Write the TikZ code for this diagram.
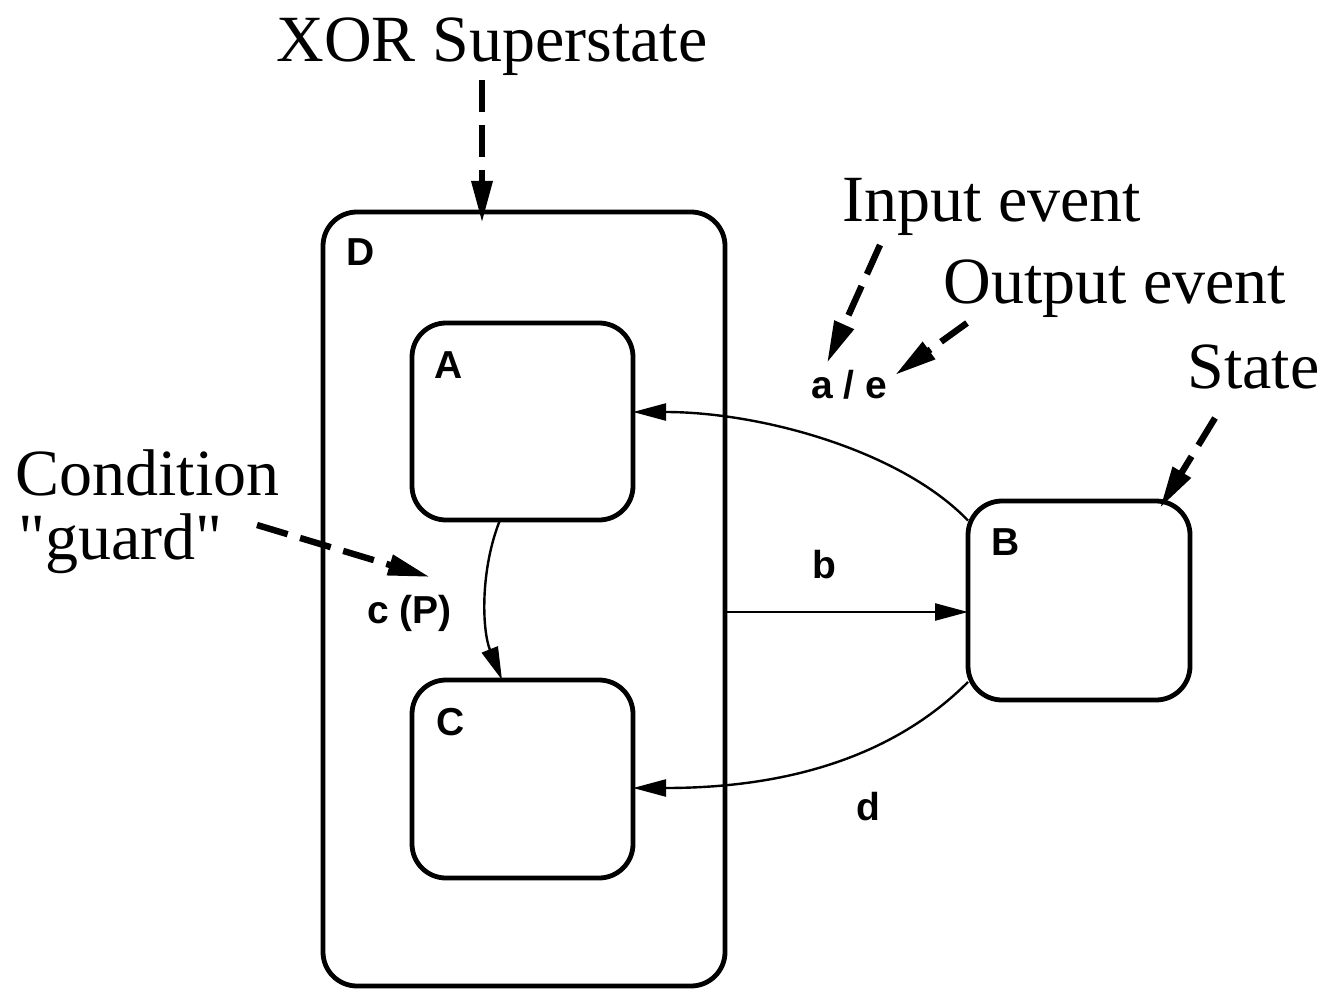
\documentclass[tikz,border=0pt]{standalone}
\usepackage{fontspec}
\setmainfont{Liberation Serif}[Ligatures=TeXOff]
\setsansfont{Liberation Sans}
\usetikzlibrary{arrows.meta}
\begin{document}
\begin{tikzpicture}[x=0.5pt,y=-0.5pt,
  statebox/.style={draw, rectangle, line width=2.4pt, rounded corners=17pt, inner sep=0pt, outer sep=0pt},
  lbl/.style={font=\sffamily\bfseries\fontsize{19.5}{21}\selectfont, anchor=base west, inner sep=0pt},
  note/.style={font=\fontsize{33}{36}\selectfont, anchor=base west, inner sep=0pt},
  conn/.style={line width=1.2pt, -{Triangle[length=16.5pt,width=8.5pt]}},
  pointer/.style={line width=3.2pt, dash pattern=on 16pt off 6.5pt, -{Triangle[length=21pt,width=10pt]}}]
\useasboundingbox (0,0) rectangle (1325,989);

% states
\node[statebox, minimum width=201pt, minimum height=387pt] (D) at (524,599) {};
\node[statebox, minimum width=110.5pt, minimum height=98.5pt] (A) at (522.5,421.5) {};
\node[statebox, minimum width=110.5pt, minimum height=99pt] (C) at (522.5,779) {};
\node[statebox, minimum width=111pt, minimum height=99.5pt] (B) at (1079,600.5) {};

% state labels
\node[lbl] (Dl) at (346,266) {D};
\node[lbl] (Al) at (434,378) {A};
\node[lbl] (Cl) at (436,735) {C};
\node[lbl] (Bl) at (991,555) {B};

% transition labels
\node[lbl] (ae) at (811,398) {a / e};
\node[lbl] (bl) at (812,578) {b};
\node[lbl] (dl) at (856,820) {d};
\node[lbl] (cp) at (367,623) {c (P)};

% annotations
\node[note, anchor=base] (xor) at (492,62) {XOR Superstate};
\node[note] (inev) at (842,222) {Input event};
\node[note] (outev) at (943,303) {Output event};
\node[note] (state) at (1187,388) {State};
\node[note] (cond) at (15,495) {Condition};
\node[note] (guard) at (18,559) {"guard"};

% transitions
\draw[conn] ([yshift=40pt]B.west) .. controls (900,450) and (760,412) .. ([yshift=4.75pt]A.east);
\draw[conn] ([yshift=-40.75pt]B.west) .. controls (900,750) and (800,788) .. ([yshift=-4.5pt]C.east);
\draw[conn] ([yshift=-6.5pt]D.east) -- ([yshift=-5.75pt]B.west);
\draw[conn] ([xshift=-11.25pt]A.south) .. controls (480,570) and (482,630) .. ([xshift=-10.25pt]C.north);

% annotation pointers
\coordinate (xorS) at (482,80);
\coordinate (inS) at (880,245);
\coordinate (inE) at (827,363);
\coordinate (outS) at (967,323);
\coordinate (outE) at (895,375);
\coordinate (stS) at (1215,418);
\coordinate (condS) at (257,525);
\coordinate (condE) at (430,577);
\draw[pointer] (xorS) -- ([xshift=-21pt,yshift=-5.5pt]D.north);
\draw[pointer] (inS) -- (inE);
\draw[pointer] (outS) -- (outE);
\draw[pointer] (stS) -- ([xshift=-15pt,yshift=-3.5pt]B.north east);
\draw[pointer] (condS) -- (condE);
\end{tikzpicture}
\end{document}
